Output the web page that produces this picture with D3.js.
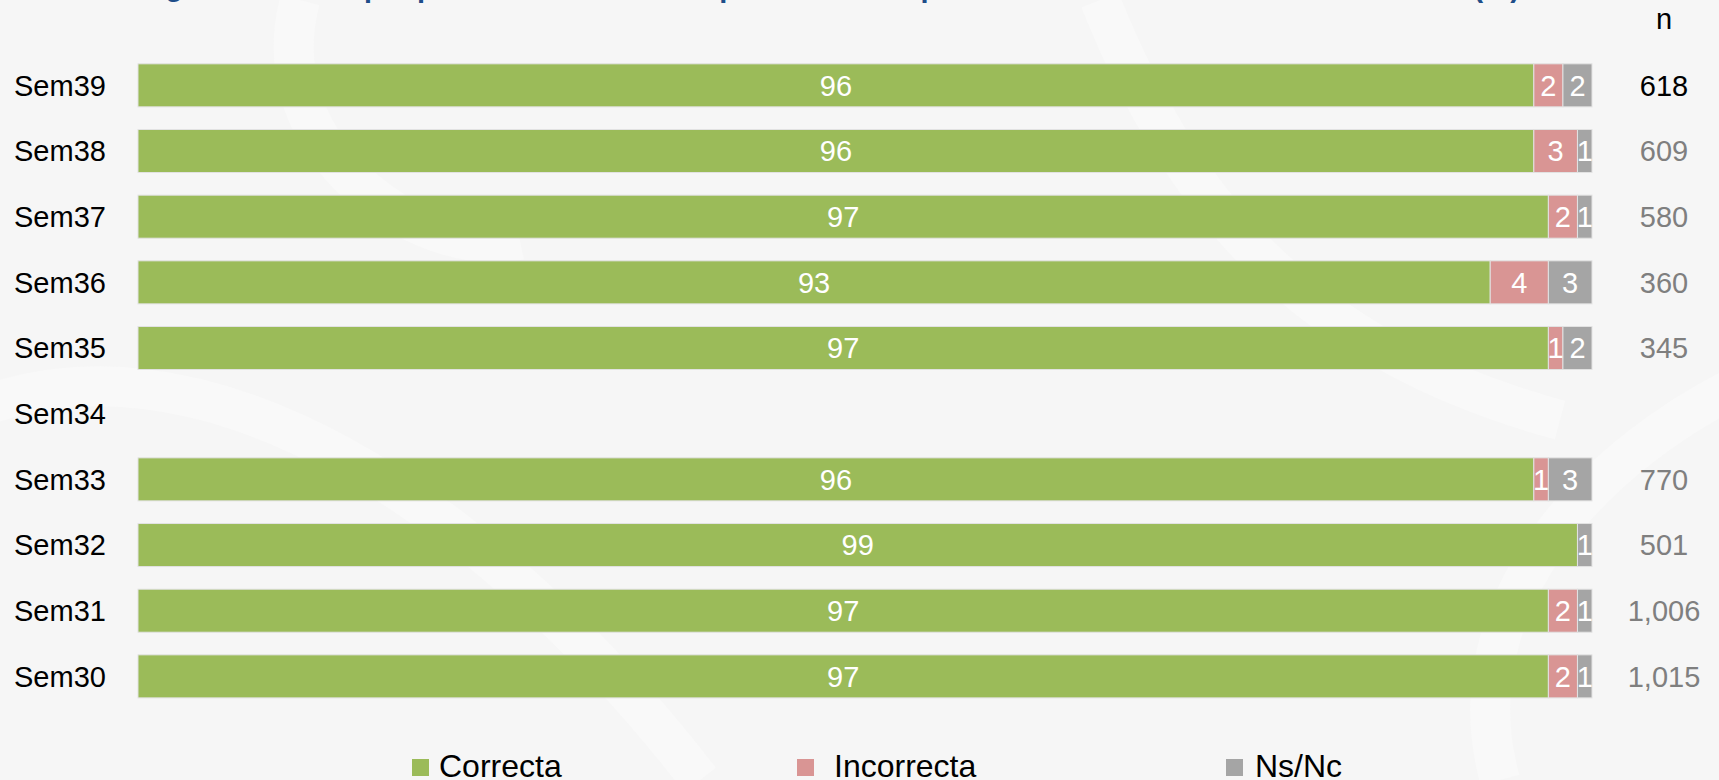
<!DOCTYPE html>
<html lang="es">
<head>
    <meta charset="UTF-8">
    <title>Semanas - barras apiladas</title>
    <script src="https://d3js.org/d3.v7.min.js"></script>
    <style>
        html, body { margin: 0; padding: 0; background: #f6f6f6; overflow: hidden; }
        text { font-family: "Liberation Sans", Arial, sans-serif; }
    </style>
</head>
<body>
    <div id="chart"></div>

    <script>
        // data
        const weeks = ["Sem39", "Sem38", "Sem37", "Sem36", "Sem35", "Sem34", "Sem33", "Sem32", "Sem31", "Sem30"];
        const correcta   = [96, 96, 97, 93, 97, null, 96, 99, 97, 97];
        const incorrecta = [2, 3, 2, 4, 1, null, 1, 0, 2, 2];
        const nsnc       = [2, 1, 1, 3, 2, null, 3, 1, 1, 1];
        const nTotal     = [618, 609, 580, 360, 345, null, 770, 501, 1006, 1015];
        const seriesNames = ["Correcta", "Incorrecta", "Ns/Nc"];
        const colors = ["#9bbb59", "#d99594", "#a5a5a5"];

        const W = 1719, H = 780;
        const svg = d3.select("#chart").append("svg")
            .attr("width", W)
            .attr("height", H);

        // background with faint swirls
        svg.append("rect").attr("width", W).attr("height", H).attr("fill", "#f6f6f6");
        const swirl = svg.append("g").attr("fill", "none").attr("stroke", "#f9f9f9").attr("stroke-width", 40);
        swirl.append("path").attr("d", "M -50 420 C 200 300, 500 520, 700 780");
        swirl.append("path").attr("d", "M 1100 0 C 1180 200, 1300 350, 1560 420");
        swirl.append("path").attr("d", "M 1500 780 C 1450 600, 1600 450, 1750 380");
        swirl.append("path").attr("d", "M 300 0 C 260 150, 420 260, 520 240");

        const x = d3.scaleLinear().domain([0, 100]).range([138, 1592]);
        const y = d3.scaleBand().domain(weeks).range([52.5, 709.2])
            .paddingInner(0.345).paddingOuter(0.1725);

        // title (cut off at the top of the picture, only descenders show)
        svg.append("text")
            .attr("x", 165).attr("y", -3)
            .attr("textLength", 1355).attr("lengthAdjust", "spacing")
            .attr("font-size", "29px").attr("font-weight", "bold")
            .attr("fill", "#1f4e89")
            .text("¿Sabe usted qué protocolo sanitario aplica en la etapa actual del semáforo de su estado? (%)");

        // category labels
        svg.append("g").selectAll("text")
            .data(weeks)
            .join("text")
            .attr("x", 14)
            .attr("y", d => y(d) + y.bandwidth() / 2)
            .attr("dy", "0.36em")
            .attr("font-size", "29px")
            .attr("fill", "#000")
            .text(d => d);

        // stacked segments
        const rows = weeks.map((w, i) => ({ week: w, vals: [correcta[i], incorrecta[i], nsnc[i]] }))
            .filter(r => r.vals[0] != null);
        const segs = [];
        rows.forEach(r => {
            let acc = 0;
            r.vals.forEach((v, k) => {
                if (v > 0) segs.push({ week: r.week, k: k, x0: acc, x1: acc + v, v: v });
                acc += v;
            });
        });

        const bars = svg.append("g");
        bars.selectAll("rect")
            .data(segs)
            .join("rect")
            .attr("x", d => x(d.x0))
            .attr("y", d => y(d.week))
            .attr("width", d => x(d.x1) - x(d.x0))
            .attr("height", y.bandwidth())
            .attr("fill", d => colors[d.k])
            .attr("stroke", "#e2e2e2")
            .attr("stroke-width", 1);

        bars.selectAll("text")
            .data(segs)
            .join("text")
            .attr("x", d => (x(d.x0) + x(d.x1)) / 2)
            .attr("y", d => y(d.week) + y.bandwidth() / 2)
            .attr("dy", "0.36em")
            .attr("text-anchor", "middle")
            .attr("font-size", "29px")
            .attr("fill", "#fff")
            .text(d => d.v);

        // n column
        svg.append("text")
            .attr("x", 1664).attr("y", 29)
            .attr("text-anchor", "middle")
            .attr("font-size", "29px")
            .attr("fill", "#000")
            .text("n");

        const fmt = d3.format(",");
        svg.append("g").selectAll("text")
            .data(weeks.map((w, i) => ({ week: w, n: nTotal[i], i: i })).filter(d => d.n != null))
            .join("text")
            .attr("x", 1664)
            .attr("y", d => y(d.week) + y.bandwidth() / 2)
            .attr("dy", "0.36em")
            .attr("text-anchor", "middle")
            .attr("font-size", "29px")
            .attr("fill", d => d.i === 0 ? "#000" : "#7f7f7f")
            .text(d => fmt(d.n));

        // legend
        const legendX = [412, 797, 1226];
        const textOff = [27, 37, 29];
        const legend = svg.append("g").selectAll("g")
            .data(seriesNames)
            .join("g")
            .attr("transform", (d, i) => `translate(${legendX[i]},0)`);
        legend.append("rect")
            .attr("x", 0).attr("y", 759)
            .attr("width", 17).attr("height", 17)
            .attr("fill", (d, i) => colors[i]);
        legend.append("text")
            .attr("x", (d, i) => textOff[i]).attr("y", 777)
            .attr("font-size", "32px")
            .attr("fill", "#000")
            .text(d => d);
    </script>
</body>
</html>
